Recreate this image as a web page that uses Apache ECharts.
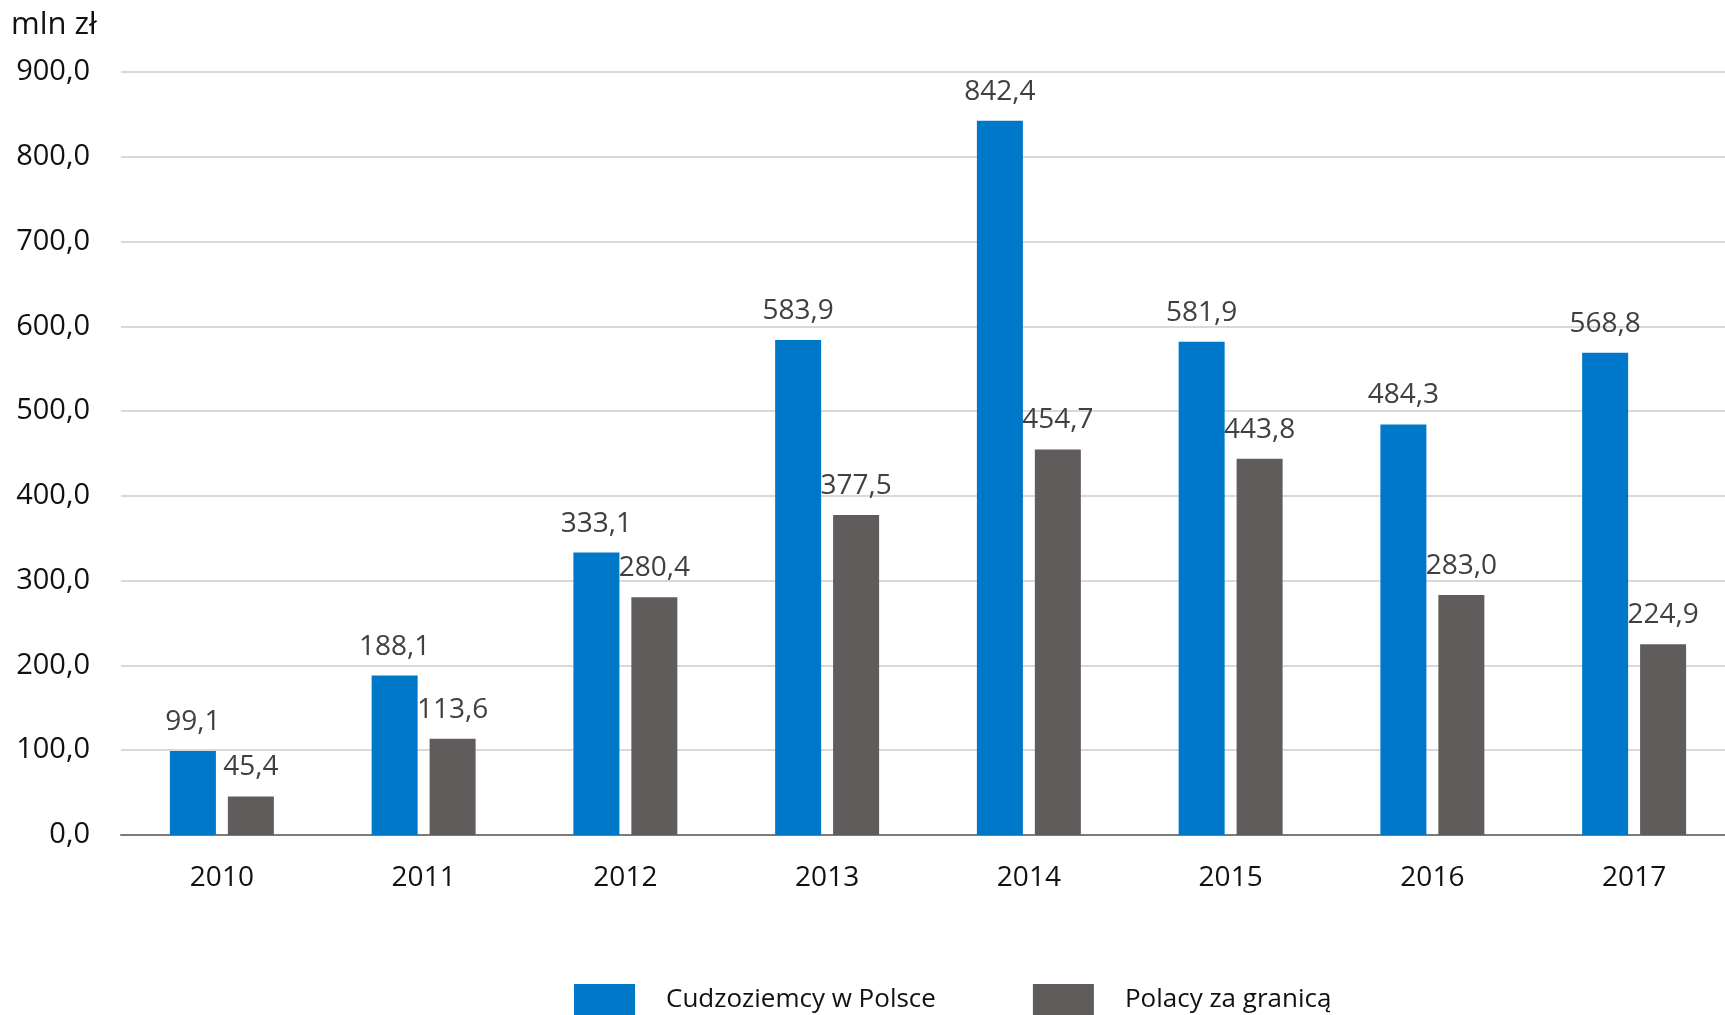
<!DOCTYPE html>
<html>
<head>
<meta charset="utf-8">
<script src="https://cdn.jsdelivr.net/npm/echarts@6/dist/echarts.min.js"></script>
<style>
html,body{margin:0;padding:0;background:#fff;}
#c{width:1725px;height:1015px;}
</style>
</head>
<body>
<div id="c"></div>
<script>
const years = ['2010','2011','2012','2013','2014','2015','2016','2017'];
const foreignersInPoland = [99.1, 188.1, 333.1, 583.9, 842.4, 581.9, 484.3, 568.8];
const polesAbroad = [45.4, 113.6, 280.4, 377.5, 454.7, 443.8, 283.0, 224.9];
const seriesNames = ['Cudzoziemcy w Polsce', 'Polacy za granicą'];
const unitLabel = 'mln zł';

const FONT = '"Open Sans", "Noto Sans", sans-serif';
const fmt = v => Number(v).toFixed(1).replace('.', ',');

const chart = echarts.init(document.getElementById('c'));
chart.setOption({
  animation: false,
  backgroundColor: '#ffffff',
  textStyle: { fontFamily: FONT },
  graphic: [{
    type: 'text', left: 11, top: 10,
    style: { text: unitLabel, font: '31px ' + FONT, fill: '#111' }
  }],
  legend: {
    left: 574, top: 984, padding: 0,
    itemWidth: 61, itemHeight: 31, itemGap: 97,
    icon: 'rect',
    textStyle: { fontSize: 26, color: '#111', fontFamily: FONT, padding: [0, 0, 0, 26] },
    data: seriesNames
  },
  grid: { left: 121, top: 72, width: 1614, height: 763, containLabel: false, outerBoundsMode: 'none' },
  xAxis: {
    type: 'category', data: years,
    axisLine: { lineStyle: { color: '#7a7a7a', width: 2 } },
    axisTick: { show: false },
    axisLabel: { fontSize: 28, color: '#111', margin: 29, fontFamily: FONT }
  },
  yAxis: {
    type: 'value', min: 0, max: 900, interval: 100,
    axisLine: { show: false }, axisTick: { show: false },
    splitLine: { lineStyle: { color: '#d9d9d9', width: 2 } },
    axisLabel: { fontSize: 29, color: '#111', margin: 31, fontFamily: FONT, formatter: v => fmt(v) }
  },
  series: [
    {
      name: seriesNames[0], type: 'bar', data: foreignersInPoland,
      barWidth: 46, barGap: '26%',
      itemStyle: { color: '#0078C9' },
      label: { show: true, position: 'top', distance: 15, fontSize: 28, color: '#404040', fontFamily: FONT, formatter: p => fmt(p.value) }
    },
    {
      name: seriesNames[1], type: 'bar', data: polesAbroad,
      barWidth: 46, barGap: '26%',
      itemStyle: { color: '#605C5B' },
      label: { show: true, position: 'top', distance: 15, fontSize: 28, color: '#404040', fontFamily: FONT, formatter: p => fmt(p.value) }
    }
  ]
});
</script>
</body>
</html>
